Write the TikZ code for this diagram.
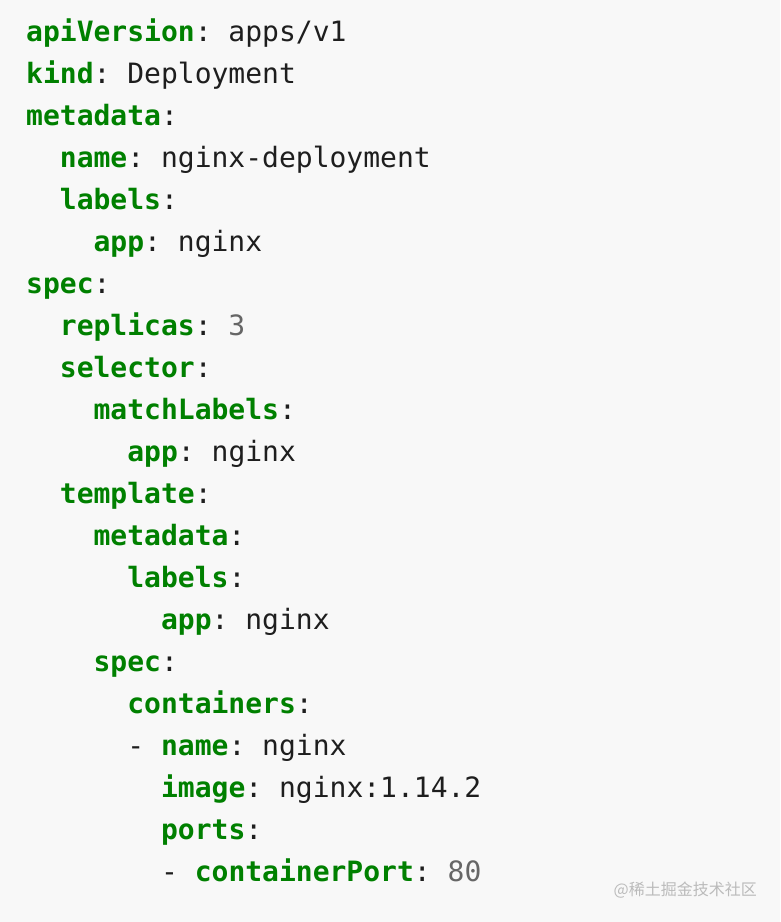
\documentclass[tikz,border=0pt]{standalone}
\usepackage{fontspec}
\setmonofont{DejaVu Sans Mono}
\newfontfamily\cjkfont{Noto Sans CJK SC}
\usepackage{xcolor}
\usepackage{tikz}

\definecolor{keygreen}{HTML}{008000}
\definecolor{numgray}{HTML}{666666}
\definecolor{codebg}{HTML}{F8F8F8}
\definecolor{codeink}{HTML}{1E1E1E}
\definecolor{markgray}{HTML}{BBBBBB}

\newcommand{\ykey}[1]{\textcolor{keygreen}{\bfseries #1}}
\newcommand{\ynum}[1]{\textcolor{numgray}{#1}}

\tikzset{
	codeline/.style={anchor=base west, inner sep=0pt, text=codeink,
		font=\ttfamily\fontsize{28}{42}\selectfont},
	watermark/.style={anchor=base east, inner sep=0pt, text=markgray,
		font=\cjkfont\fontsize{16}{16}\selectfont}
}

\begin{document}
\begin{tikzpicture}[x=1pt, y=1pt]
	\fill[codebg] (0,0) rectangle (780,-922);
	\useasboundingbox (0,0) rectangle (780,-922);
	
	% one node per line of the listing, indent = two characters
	\def\ind{33.72}
	\node[codeline] (apiversion) at (26,-41) {\ykey{apiVersion}: apps/v1};
	\node[codeline] (kind) at (26,-83) {\ykey{kind}: Deployment};
	\node[codeline] (meta) at (26,-125) {\ykey{metadata}:};
	\node[codeline] (metaname) at (26+\ind,-167) {\ykey{name}: nginx-deployment};
	\node[codeline] (metalabels) at (26+\ind,-209) {\ykey{labels}:};
	\node[codeline] (metaapp) at (26+2*\ind,-251) {\ykey{app}: nginx};
	\node[codeline] (spec) at (26,-293) {\ykey{spec}:};
	\node[codeline] (replicas) at (26+\ind,-335) {\ykey{replicas}: \ynum{3}};
	\node[codeline] (selector) at (26+\ind,-377) {\ykey{selector}:};
	\node[codeline] (matchlabels) at (26+2*\ind,-419) {\ykey{matchLabels}:};
	\node[codeline] (matchapp) at (26+3*\ind,-461) {\ykey{app}: nginx};
	\node[codeline] (template) at (26+\ind,-503) {\ykey{template}:};
	\node[codeline] (tplmeta) at (26+2*\ind,-545) {\ykey{metadata}:};
	\node[codeline] (tpllabels) at (26+3*\ind,-587) {\ykey{labels}:};
	\node[codeline] (tplapp) at (26+4*\ind,-629) {\ykey{app}: nginx};
	\node[codeline] (tplspec) at (26+2*\ind,-671) {\ykey{spec}:};
	\node[codeline] (containers) at (26+3*\ind,-713) {\ykey{containers}:};
	\node[codeline] (ctrname) at (26+3*\ind,-755) {- \ykey{name}: nginx};
	\node[codeline] (ctrimage) at (26+4*\ind,-797) {\ykey{image}: nginx:1.14.2};
	\node[codeline] (ctrports) at (26+4*\ind,-839) {\ykey{ports}:};
	\node[codeline] (ctrport) at (26+4*\ind,-881) {- \ykey{containerPort}: \ynum{80}};
	
	\node[watermark] (mark) at (757,-895) {@稀土掘金技术社区};
\end{tikzpicture}
\end{document}
